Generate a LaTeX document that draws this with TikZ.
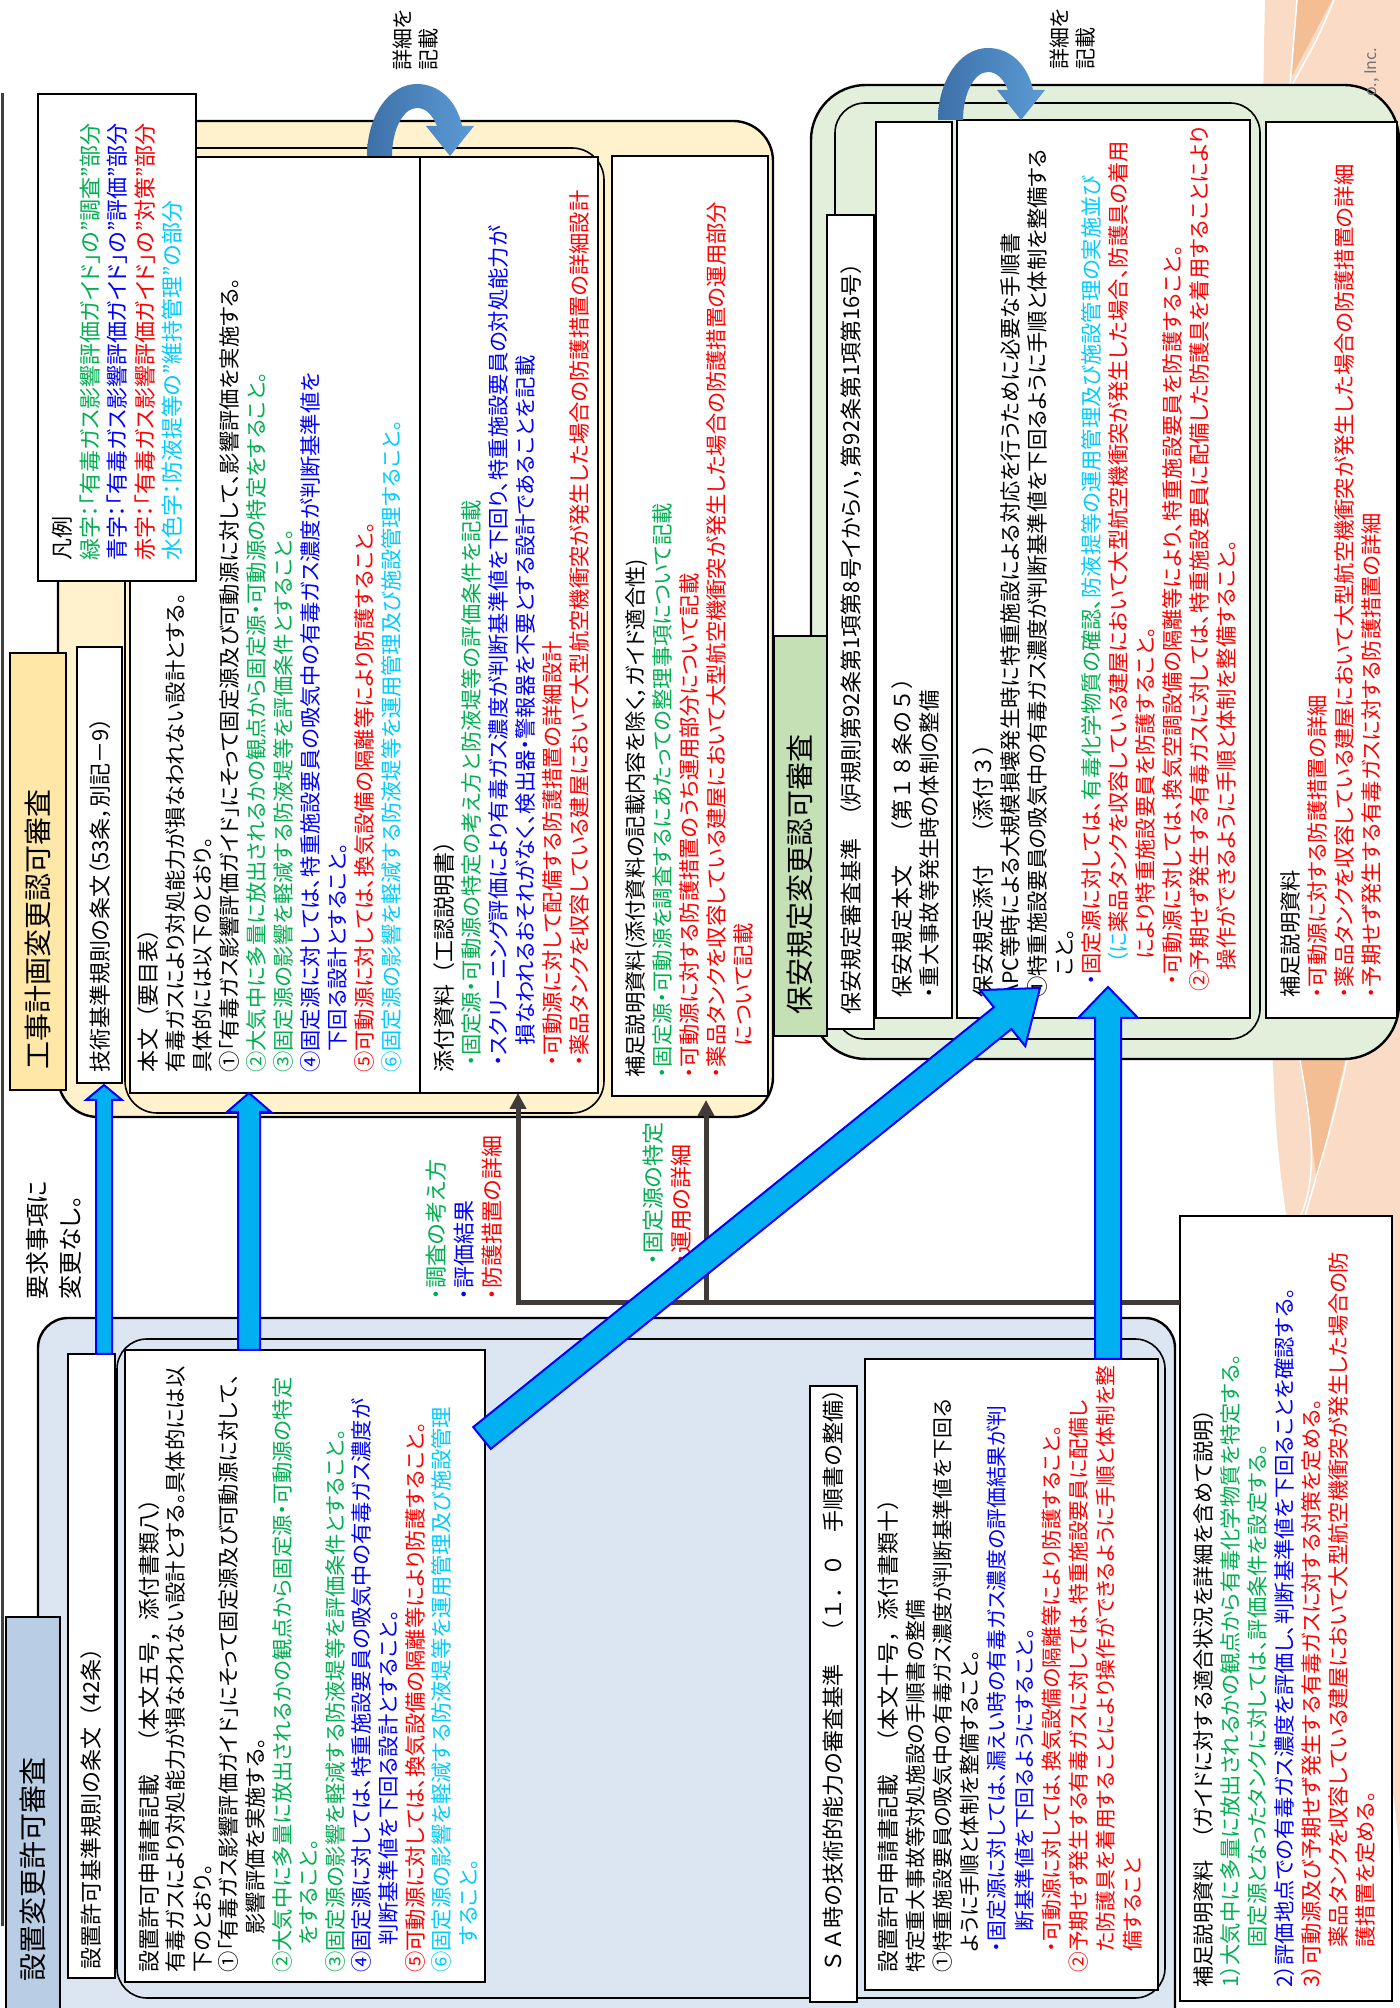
\documentclass[tikz,border=0pt]{standalone}
\usepackage{fontspec}
\setmainfont{Noto Sans CJK JP}[RawFeature={+palt}]
\newfontfamily\jpfw{Noto Sans CJK JP}
\usetikzlibrary{arrows.meta,calc}
\definecolor{grn}{HTML}{00B050}
\definecolor{blu}{HTML}{0000FF}
\definecolor{rd}{HTML}{FF0000}
\definecolor{cyn}{HTML}{00CCFF}
\definecolor{kjcream}{HTML}{FFF2CC}
\definecolor{kjhead}{HTML}{FFE7A8}
\definecolor{stblue}{HTML}{DCE6F2}
\definecolor{sthead}{HTML}{B9CDE5}
\definecolor{hagreen}{HTML}{E2EFDA}
\definecolor{hahead}{HTML}{C5E0B4}
\definecolor{arrblue}{HTML}{00B0F0}
\definecolor{curvdark}{HTML}{3E70A8}
\definecolor{curvlight}{HTML}{5B9BD5}
\definecolor{greyline}{HTML}{403B38}
\definecolor{peach}{HTML}{FADCC6}
\definecolor{peachdk}{HTML}{F3BE93}
% title line of a box: full-width glyphs, no proportional kana
\newcommand{\boxtitle}[1]{{\jpfw\fontsize{22}{27}\selectfont #1}}
% block arrow: tail, tip, half shaft, half head, head length
\newcommand{\blockarrow}[5]{%
  \coordinate (#1-hb) at ($(#2)!#5!(#1)$);
  \draw[barrow] ($(#1)!#3!90:(#2)$) -- ($(#1-hb)!#3!90:(#2)$)
    -- ($(#1-hb)!#4!90:(#2)$) -- (#2) -- ($(#1-hb)!#4!-90:(#2)$)
    -- ($(#1-hb)!#3!-90:(#2)$) -- ($(#1)!#3!-90:(#2)$) -- cycle;}
% bent arrow over the boxes ("detail")
\newcommand{\detailarc}[2]{%
  \shade[left color=curvdark,right color=curvlight,shift={(#1,#2)}] (0,-50) .. controls (40,-50) and (72,-28) .. (72,0)
    .. controls (72,22) and (55,40) .. (30,45) -- (30,57) -- (0,33) -- (30,9) -- (30,20)
    .. controls (42,15) and (48,8) .. (48,0) .. controls (48,-14) and (26,-25) .. (0,-25) -- cycle;}

\begin{document}
\begin{tikzpicture}[x=1pt,y=-1pt,rotate=90,transform shape,
  box/.style={draw,line width=1.6pt,anchor=north west,inner sep=0pt,outer sep=0pt,fill=white},
  panel/.style={box,line width=2.4pt,rounded corners=#1},
  txt/.style={anchor=north west,align=left,inner sep=0pt,font=\fontsize{21.3}{27}\selectfont},
  head/.style={anchor=west,inner sep=0pt,font=\fontsize{28}{34}\selectfont},
  one/.style={anchor=west,inner sep=0pt,font=\fontsize{22}{27}\selectfont},
  barrow/.style={fill=arrblue,draw=blu,line width=2pt,line join=miter},
  gline/.style={draw=greyline,line width=5pt}]
  % page (landscape slide, turned)
  \useasboundingbox (0,0) rectangle (2008,1400);
  \fill[white] (0,0) rectangle (2008,1400);
  % background decoration
  \fill[peach] (2008,1265) .. controls (1700,1258) and (1150,1262) .. (900,1275)
    .. controls (700,1285) and (350,1385) .. (150,1400) -- (2008,1400) -- cycle;
  \fill[peachdk] (2008,1297) -- (2008,1332) -- (1932,1292) -- cycle;
  \fill[peachdk] (948,1300) -- (948,1345) -- (828,1317) -- cycle;
  \draw[white,line width=1.5pt] (2008,1297) -- (1923,1290);
  \draw[white,line width=1.5pt] (2008,1334) .. controls (1970,1318) .. (1923,1292);
  \draw[white,line width=1.5pt] (948,1300) .. controls (880,1312) and (830,1318) .. (791,1300);
  \draw[white,line width=1.5pt] (948,1347) .. controls (870,1330) and (820,1312) .. (791,1305);
  \draw[black!75,line width=3pt] (82,2) -- (1915,2);

  % ---- construction plan (top right of slide)
  \node[panel=40pt,fill=kjcream,minimum width=996pt,minimum height=715pt] (kjpanel) at (891,58) {};
  \node[panel=32pt,line width=1.6pt,fill=kjcream,minimum width=965pt,minimum height=479pt] (kjgroup) at (895,125) {};
  \node[box,minimum width=936pt,minimum height=290pt] (kjhonbun) at (915,130) {};
  \node[box,minimum width=936pt,minimum height=178pt] (kjtenpu) at (915,420) {};
  \node[box,minimum width=940pt,minimum height=156pt] (kjhosoku) at (912,612) {};
  \node[box,fill=kjhead,minimum width=437pt,minimum height=56pt] (kjhead) at (918,10) {};
  \node[box,minimum width=436pt,minimum height=45pt] (kjjobun) at (925,77) {};
  \node[box,minimum width=487pt,minimum height=158pt] (hanrei) at (1427,38) {};

  \node[head] (kjheadtxt) at (938,38) {工事計画変更認可審査};
  \node[one] (kjjobuntxt) at (935,100) {技術基準規則の条文（53条，別記－9）};
  \node[txt] (kjhonbuntxt) at (935,137) {\boxtitle{本文（要目表）}\\
    有毒ガスにより対処能力が損なわれない設計とする。\\
    具体的には以下のとおり。\\
    ①「有毒ガス影響評価ガイド」にそって固定源及び可動源に対して、影響評価を実施する。\\
    {\color{grn}②大気中に多量に放出されるかの観点から固定源・可動源の特定をすること。}\\
    {\color{grn}③固定源の影響を軽減する防液堤等を評価条件とすること。}\\
    {\color{blu}④固定源に対しては、特重施設要員の吸気中の有毒ガス濃度が判断基準値を}\\
    \hspace*{1em}{\color{blu}下回る設計とすること。}\\
    {\color{rd}⑤可動源に対しては、換気設備の隔離等により防護すること。}\\
    {\color{cyn}⑥固定源の影響を軽減する防液堤等を運用管理及び施設管理すること。}};
  \node[txt] (kjtenputxt) at (935,433) {\boxtitle{添付資料（工認説明書）}\\
    \hspace*{0.3em}{\color{grn}・固定源・可動源の特定の考え方と防液堤等の評価条件を記載}\\
    \hspace*{0.3em}{\color{blu}・スクリーニング評価により有毒ガス濃度が判断基準値を下回り、特重施設要員の対処能力が}\\
    \hspace*{1.3em}{\color{blu}損なわれるおそれがなく、検出器・警報器を不要とする設計であることを記載}\\
    \hspace*{0.3em}{\color{rd}・可動源に対して配備する防護措置の詳細設計}\\
    \hspace*{0.3em}{\color{rd}・薬品タンクを収容している建屋において大型航空機衝突が発生した場合の防護措置の詳細設計}};
  \node[txt] (kjhosokutxt) at (930,625) {補足説明資料(添付資料の記載内容を除く，ガイド適合性)\\
    {\color{grn}・固定源・可動源を調査するにあたっての整理事項について記載}\\
    {\color{rd}・可動源に対する防護措置のうち運用部分について記載}\\
    {\color{rd}・薬品タンクを収容している建屋において大型航空機衝突が発生した場合の防護措置の運用部分}\\
    \hspace*{1.5em}{\color{rd}について記載}};
  \node[txt,font=\fontsize{22}{27.5}\selectfont] (hanreitxt) at (1447,52) {凡例\\
    {\color{grn}緑字：「有毒ガス影響評価ガイド」の”調査”部分}\\
    {\color{blu}青字：「有毒ガス影響評価ガイド」の”評価”部分}\\
    {\color{rd}赤字：「有毒ガス影響評価ガイド」の”対策”部分}\\
    {\color{cyn}水色字：防液提等の”維持管理”の部分}};

  % ---- safety regulations (bottom right of slide)
  \node[panel=55pt,fill=hagreen,minimum width=974pt,minimum height=588pt] (hapanel) at (949,811) {};
  \node[panel=30pt,line width=1.6pt,fill=hagreen,minimum width=936pt,minimum height=425pt] (hagroup) at (969,835) {};
  \node[box,minimum width=896pt,minimum height=76pt] (hahonbun) at (990,876) {};
  \node[box,minimum width=898pt,minimum height=293pt] (hatenpu) at (990,957) {};
  \node[box,minimum width=896pt,minimum height=131pt] (hahosoku) at (990,1266) {};
  \node[box,fill=hahead,minimum width=400pt,minimum height=53pt] (hahead) at (972,774) {};
  \node[box,minimum width=814pt,minimum height=47pt] (hakijun) at (979,827) {};

  \node[head] (haheadtxt) at (993,800) {保安規定変更認可審査};
  \node[one] (hakijuntxt) at (993,851) {保安規定審査基準　（炉規則第92条第1項第8号イからハ，第92条第1項第16号）};
  \node[txt] (hahonbuntxt) at (1010,891) {\boxtitle{保安規定本文　（第１８条の５）}\\
    ・重大事故等発生時の体制の整備};
  \node[txt] (hatenputxt) at (1010,972) {\boxtitle{保安規定添付　（添付３）}\\
    APC等時による大規模損壊発生時に特重施設による対応を行うために必要な手順書\\
    ①特重施設要員の吸気中の有毒ガス濃度が判断基準値を下回るように手順と体制を整備する\\
    \hspace*{1em}こと。\\
    \hspace*{0.6em}{\color{blu}・}{\color{rd}固定源に対しては、}{\color{grn}有毒化学物質の確認、}{\color{cyn}防液提等の運用管理及び施設管理の実施並び}\\
    \hspace*{1.6em}{\color{cyn}（に}{\color{rd}薬品タンクを収容している建屋において大型航空機衝突が発生した場合、防護具の着用}\\
    \hspace*{1.8em}{\color{rd}により特重施設要員を防護すること。}\\
    \hspace*{0.6em}{\color{rd}・可動源に対しては、換気空調設備の隔離等により、特重施設要員を防護すること。}\\
    \hspace*{0.3em}{\color{rd}②予期せず発生する有毒ガスに対しては、特重施設要員に配備した防護具を着用することにより}\\
    \hspace*{1.3em}{\color{rd}操作ができるように手順と体制を整備すること。}};
  \node[txt] (hahosokutxt) at (1010,1280) {補足説明資料\\
    {\color{rd}・可動源に対する防護措置の詳細}\\
    {\color{rd}・薬品タンクを収容している建屋において大型航空機衝突が発生した場合の防護措置の詳細}\\
    {\color{rd}・予期せず発生する有毒ガスに対する防護措置の詳細}};

  % ---- installation permit (left of slide)
  \node[panel=30pt,fill=stblue,minimum width=720pt,minimum height=1137pt] (stpanel) at (-30,38) {};
  \node[panel=30pt,line width=1.6pt,fill=stblue,minimum width=659pt,minimum height=1048pt] (stgroup) at (10,117) {};
  \node[box,minimum width=632pt,minimum height=360pt] (stshinsei) at (26,125) {};
  \node[box,minimum width=631pt,minimum height=293pt] (stsabox) at (18,865) {};
  \node[box,minimum width=616pt,minimum height=47pt] (stsalabel) at (6,810) {};
  \node[box,fill=sthead,minimum width=411pt,minimum height=54pt] (sthead) at (-20,6) {};
  \node[box,minimum width=624pt,minimum height=47pt] (stjobun) at (30,68) {};
  \node[box,minimum width=785pt,minimum height=212pt] (sthosoku) at (7,1180) {};

  \node[head] (stheadtxt) at (26,33) {設置変更許可審査};
  \node[one,font=\jpfw\fontsize{22}{27}\selectfont] (stjobuntxt) at (38,91) {設置許可基準規則の条文（42条）};
  \node[txt,font=\fontsize{21.3}{26.6}\selectfont] (stshinseitxt) at (35,138) {\boxtitle{設置許可申請書記載　（本文五号，添付書類八）}\\
    有毒ガスにより対処能力が損なわれない設計とする。具体的には以\\
    下のとおり。\\
    ①「有毒ガス影響評価ガイド」にそって固定源及び可動源に対して、\\
    \hspace*{1.8em}影響評価を実施する。\\
    {\color{grn}②大気中に多量に放出されるかの観点から固定源・可動源の特定}\\
    \hspace*{1.3em}{\color{grn}をすること。}\\
    {\color{grn}③固定源の影響を軽減する防液堤等を評価条件とすること。}\\
    {\color{blu}④固定源に対しては、特重施設要員の吸気中の有毒ガス濃度が}\\
    \hspace*{1.3em}{\color{blu}判断基準値を下回る設計とすること。}\\
    {\color{rd}⑤可動源に対しては、換気設備の隔離等により防護すること。}\\
    {\color{cyn}⑥固定源の影響を軽減する防液堤等を運用管理及び施設管理}\\
    \hspace*{1.3em}{\color{cyn}すること。}};
  \node[one,font=\jpfw\fontsize{22}{27}\selectfont] (stsalabeltxt) at (35,833) {ＳＡ時の技術的能力の審査基準　（１．０　手順書の整備）};
  \node[txt,font=\fontsize{20.8}{27.2}\selectfont] (stsaboxtxt) at (35,877) {\boxtitle{設置許可申請書記載　（本文十号，添付書類十）}\\
    特定重大事故等対処施設の手順書の整備\\
    ①特重施設要員の吸気中の有毒ガス濃度が判断基準値を下回る\\
    \hspace*{1em}ように手順と体制を整備すること。\\
    \hspace*{1em}{\color{blu}・固定源に対しては、漏えい時の有毒ガス濃度の評価結果が判}\\
    \hspace*{2em}{\color{blu}断基準値を下回るようにすること。}\\
    \hspace*{1em}{\color{rd}・可動源に対しては、換気設備の隔離等により防護すること。}\\
    {\color{rd}②予期せず発生する有毒ガスに対しては、特重施設要員に配備し}\\
    \hspace*{1em}{\color{rd}た防護具を着用することにより操作ができるように手順と体制を整}\\
    \hspace*{1em}{\color{rd}備すること}};
  \node[txt] (sthosokutxt) at (20,1193) {補足説明資料　（ガイドに対する適合状況を詳細を含めて説明）\\
    {\color{grn}1）大気中に多量に放出されるかの観点から有毒化学物質を特定する。}\\
    \hspace*{1.9em}{\color{grn}固定源となったタンクに対しては、評価条件を設定する。}\\
    {\color{blu}2）評価地点での有毒ガス濃度を評価し、判断基準値を下回ることを確認する。}\\
    {\color{rd}3）可動源及び予期せず発生する有毒ガスに対する対策を定める。}\\
    \hspace*{1.9em}{\color{rd}薬品タンクを収容している建屋において大型航空機衝突が発生した場合の防}\\
    \hspace*{1.9em}{\color{rd}護措置を定める。}};

  % ---- free labels
  \node[txt,font=\fontsize{24}{33}\selectfont] (youkyu) at (708,26) {要求事項に\\変更なし。};
  \node[txt,font=\fontsize{22}{28}\selectfont] (glabel1) at (708,426) {{\color{grn}・調査の考え方}\\
    {\color{blu}・評価結果}\\{\color{rd}・防護措置の詳細}};
  \node[txt,font=\fontsize{22}{28}\selectfont] (glabel2) at (743,643) {{\color{grn}・固定源の特定}\\
    {\color{rd}・運用の詳細}};
  \node[txt,font=\fontsize{21}{26}\selectfont] (shosaiA) at (1937,393) {詳細を\\記載};
  \node[txt,font=\fontsize{21}{26}\selectfont] (shosaiB) at (1938,1050) {詳細を\\記載};
  \node[anchor=west,inner sep=0pt,text=black!55,font=\fontsize{16}{18}\selectfont] (corp) at (1911,1372) {o., Inc.};

  % ---- connectors
  \coordinate (g0) at ($(sthosoku.north west)+(698,0)$);
  \coordinate (g1) at (705,518);
  \coordinate (g2) at ($(kjtenpu.north west)+(0,98)$);
  \coordinate (g3) at (705,706);
  \coordinate (g4) at ($(kjhosoku.north west)+(-4,94)$);
  \draw[gline,-{Triangle[length=16pt,width=16pt]}] (g0) -- (g1) -- (g2);
  \draw[gline,-{Triangle[length=16pt,width=16pt]}] (g3) -- (g4);

  \coordinate (a1t) at (654,104);  \coordinate (a1h) at (923,104);
  \coordinate (a2t) at (658,249);  \coordinate (a2h) at (915,249);
  \coordinate (a3t) at (570,482);  \coordinate (a3h) at (1020,1040);
  \coordinate (a4t) at (649,1108); \coordinate (a4h) at (1021,1108);
  \blockarrow{a1t}{a1h}{8pt}{18pt}{15pt}
  \blockarrow{a2t}{a2h}{11pt}{22pt}{19pt}
  \blockarrow{a3t}{a3h}{14pt}{36pt}{48pt}
  \blockarrow{a4t}{a4h}{13pt}{30pt}{31pt}

  \detailarc{1852}{417}
  \detailarc{1888}{988}
\end{tikzpicture}
\end{document}
